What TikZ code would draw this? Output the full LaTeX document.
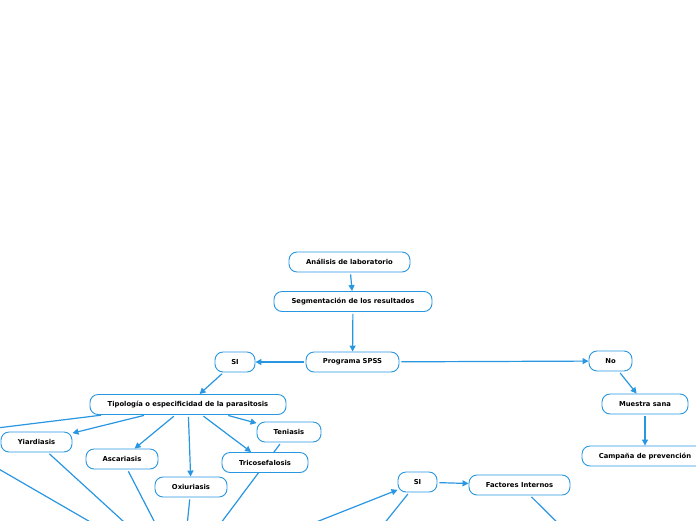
\documentclass[tikz,border=0pt]{standalone}
\usepackage{fontspec}
\setmainfont{DejaVu Sans}
\usetikzlibrary{arrows.meta,backgrounds}
\definecolor{mapblue}{RGB}{40,150,225}

\begin{document}
\begin{tikzpicture}[x=1pt, y=-1pt,
    topic/.style={draw=mapblue, line width=0.9pt, fill=white, rounded corners=8pt,
      minimum height=20pt, inner sep=0pt, font=\fontsize{6.8}{7}\selectfont\bfseries},
    link/.style={mapblue, line width=1.2pt, shorten <=2pt, -{Triangle[length=6pt,width=6pt]}},
    plain/.style={mapblue, line width=1.2pt, shorten <=2pt}]
    \useasboundingbox (0,0) rectangle (696,520);
    \clip (0,0) rectangle (696,520);
    % Main chain
    \node[topic, minimum width=121pt] (lab) at (349.5,262) {Análisis de laboratorio};
    \node[topic, minimum width=158pt] (seg) at (353,301.5) {Segmentación de los resultados};
    \node[topic, minimum width=93pt] (spss) at (352.5,362) {Programa SPSS};
    \node[topic, minimum width=40pt] (si) at (235,362) {SI};
    \node[topic, minimum width=43pt] (no) at (610.5,361) {No};
    \node[topic, minimum width=86pt] (sana) at (645,404) {Muestra sana};
    \node[topic, minimum width=126pt] (camp) at (645,456) {Campaña de prevención};
    % Parasitosis
    \node[topic, minimum width=196pt] (tipo) at (188,404.5) {Tipología o especificidad de la parasitosis};
    \node[topic, minimum width=71pt] (yiar) at (36.5,442) {Yiardiasis};
    \node[topic, minimum width=72pt] (asca) at (122,459) {Ascariasis};
    \node[topic, minimum width=64pt] (teni) at (289,432) {Teniasis};
    \node[topic, minimum width=86pt] (trico) at (265,462.5) {Tricosefalosis};
    \node[topic, minimum width=72pt] (oxiu) at (191,487) {Oxiuriasis};
    % Factores
    \node[topic, minimum width=39pt] (si2) at (417.5,482) {SI};
    \node[topic, minimum width=101pt] (fint) at (519.5,485) {Factores Internos};
    % Off-page ends
    \coordinate (hub) at (182,575);
    \coordinate (offleft) at (-60,435);
    \coordinate (sidown) at (367,545);
    \coordinate (fintdown) at (580,545);

    \begin{scope}[on background layer]
      \draw[link] (lab) -- (seg);
      \draw[link] (seg) -- (spss);
      \draw[link] (spss) -- (si);
      \draw[link] (spss) -- (no);
      \draw[link] (no) -- (sana);
      \draw[link] (sana) -- (camp);
      \draw[link] (si) -- (tipo);
      \foreach \t in {yiar,asca,oxiu,trico,teni}
        \draw[link] (tipo) -- (\t);
      \draw[plain] (tipo) -- (offleft);
      \foreach \t in {offleft,yiar,asca,oxiu,teni}
        \draw[plain] (\t) -- (hub);
      \draw[link] (hub) -- (si2);
      \draw[link] (si2) -- (fint);
      \draw[plain] (si2) -- (sidown);
      \draw[plain] (fint) -- (fintdown);
    \end{scope}
\end{tikzpicture}
\end{document}
